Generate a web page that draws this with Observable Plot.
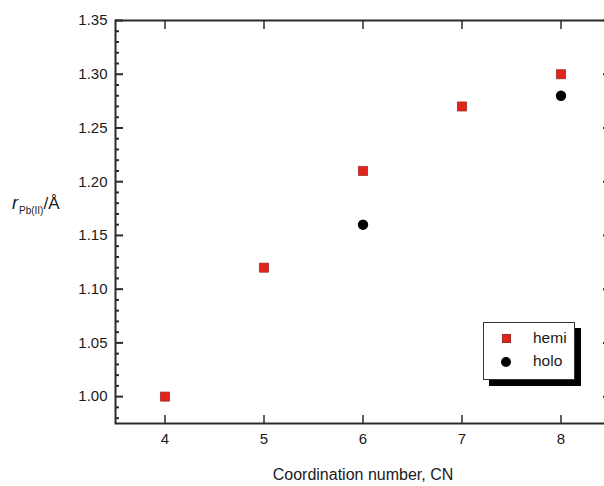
<!DOCTYPE html>
<html><head><meta charset="utf-8">
<script src="https://cdn.jsdelivr.net/npm/d3@7"></script>
<script src="https://cdn.jsdelivr.net/npm/@observablehq/plot@0.6"></script>
<style>
body{margin:0;background:#fff;font-family:"Liberation Sans",Arial,sans-serif;color:#1a1a1a}
#wrap{position:relative;width:604px;height:486px;overflow:hidden}
#ylab{position:absolute;left:12px;top:193px;font-size:17px;white-space:nowrap}
#ylab i{font-size:18px}
#ylab sub{font-size:10px;vertical-align:-5px;margin-left:1px}
#legend{position:absolute;left:483px;top:322px;width:90px;height:56px;border:1px solid #333;background:#fff;box-shadow:6px 6px 0 #000;font-size:15.5px}
</style></head><body><div id="wrap"></div>
<script>
const hemiCN = [4, 5, 6, 7, 8];
const hemiR = [1.00, 1.12, 1.21, 1.27, 1.30];
const holoCN = [6, 8];
const holoR = [1.16, 1.28];
const xTicks = [4, 5, 6, 7, 8];
const yMajor = [1.00, 1.05, 1.10, 1.15, 1.20, 1.25, 1.30, 1.35];
const yMinor = d3.range(98, 135).filter(d => d % 5 !== 0).map(d => d / 100);
const xLabel = "Coordination number, CN";
const seriesNames = ["hemi", "holo"];

const hemi = hemiCN.map((x, i) => ({x, y: hemiR[i]}));
const holo = holoCN.map((x, i) => ({x, y: holoR[i]}));

const red = "#e3241d", redEdge = "#9a2a22", ink = "#2a2a2a";

const plot = Plot.plot({
  width: 604,
  height: 486,
  marginLeft: 115,
  marginRight: -6,
  marginTop: 20,
  marginBottom: 63,
  style: {fontFamily: '"Liberation Sans", Arial, sans-serif', fontSize: "15px", color: "#1a1a1a", background: "#fff"},
  x: {domain: [3.5, 8.5]},
  y: {domain: [0.975, 1.35]},
  marks: [
    Plot.axisY(yMajor, {anchor: "left", tickSize: -8, tickPadding: 16, tickFormat: d3.format(".2f"), strokeWidth: 2, stroke: ink, label: null, fontSize: 15}),
    Plot.axisY(yMinor, {anchor: "left", tickSize: -4, text: null, strokeWidth: 2, stroke: ink, label: null}),
    Plot.axisY(yMajor, {anchor: "right", tickSize: -8, text: null, strokeWidth: 2, stroke: ink, label: null}),
    Plot.axisY(yMinor, {anchor: "right", tickSize: -4, text: null, strokeWidth: 2, stroke: ink, label: null}),
    Plot.axisX(xTicks, {anchor: "bottom", tickSize: -8, tickPadding: 18, strokeWidth: 1.5, stroke: ink, label: xLabel, labelAnchor: "center", labelArrow: "none", labelOffset: 56, fontSize: 15}),
    Plot.axisX(xTicks, {anchor: "top", tickSize: -8, text: null, strokeWidth: 1.5, stroke: ink, label: null}),
    Plot.frame({stroke: ink, strokeWidth: 2}),
    Plot.dot(hemi, {x: "x", y: "y", symbol: "square", r: 5.1, fill: red, stroke: redEdge, strokeWidth: 0.8}),
    Plot.dot(holo, {x: "x", y: "y", symbol: "circle", r: 5.2, fill: "#000"})
  ]
});
const wrap = document.getElementById("wrap");
wrap.appendChild(plot);
plot.querySelectorAll("g[aria-label='x-axis label'] text").forEach(t => t.setAttribute("font-size", "16"));

const yl = document.createElement("div");
yl.id = "ylab";
yl.innerHTML = "<i>r</i><sub>Pb(II)</sub>/Å";
wrap.appendChild(yl);

const lg = document.createElement("div");
lg.id = "legend";
lg.innerHTML = `
<div style="position:absolute;left:18px;top:11px;width:9px;height:9px;background:${red};border:0.8px solid ${redEdge};box-sizing:border-box"></div>
<div style="position:absolute;left:49px;top:6px">${seriesNames[0]}</div>
<div style="position:absolute;left:17px;top:34px;width:10px;height:10px;border-radius:50%;background:#000"></div>
<div style="position:absolute;left:49px;top:29px">${seriesNames[1]}</div>`;
wrap.appendChild(lg);
</script></body></html>
